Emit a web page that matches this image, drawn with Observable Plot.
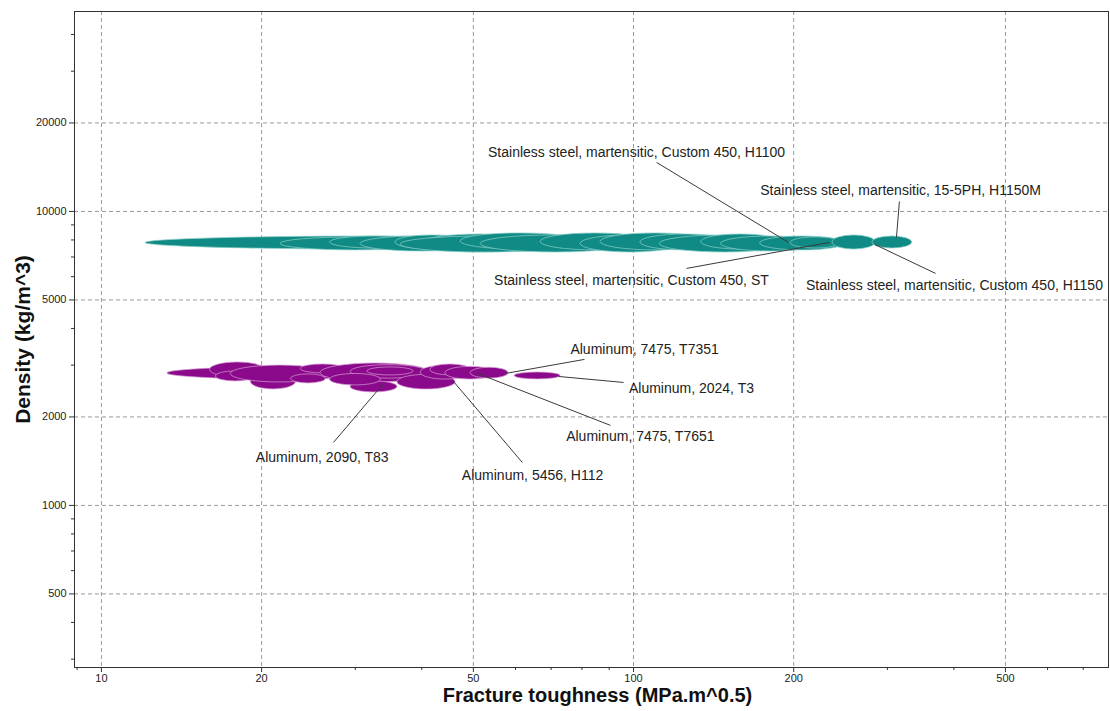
<!DOCTYPE html>
<html>
<head>
<meta charset="utf-8">
<script src="https://cdn.jsdelivr.net/npm/d3@7"></script>
<script src="https://cdn.jsdelivr.net/npm/@observablehq/plot@0.6"></script>
<style>
  body { margin: 0; background: #fff; }
</style>
</head>
<body>
<div id="chart"></div>
<script>
// ---- Stainless steel bubbles: fracture toughness range (MPa.m^0.5) and density range (kg/m^3)
const steelTough1 = [12.1, 21.7, 26.9, 30.7, 35.7, 39.8, 36.5, 47.3, 51.6, 66.9, 79.5, 86.7, 103, 112, 134, 146, 173, 197.3, 236.6, 281];
const steelTough2 = [86.7, 41.5, 39.8, 51.6, 49.4, 66.9, 76.1, 79.5, 98.7, 107.6, 122.6, 139.5, 152.2, 197.3, 189, 224.6, 250.3, 245, 285, 334];
const steelDens1  = [7420, 7370, 7480, 7310, 7420, 7250, 7250, 7420, 7250, 7370, 7250, 7370, 7370, 7250, 7420, 7310, 7370, 7480, 7420, 7480];
const steelDens2  = [8220, 8160, 8220, 8220, 8290, 8350, 8220, 8420, 8290, 8420, 8290, 8420, 8350, 8290, 8350, 8220, 8220, 8160, 8290, 8220];

// ---- Aluminum bubbles
const aluTough1 = [13.3, 16.0, 16.4, 19.1, 17.5, 22.7, 23.7, 25.8, 29.4, 31.6, 29.4, 26.9, 36.0, 39.8, 41.5, 44.3, 49.4, 59.8];
const aluTough2 = [36.5, 20.3, 19.5, 23.2, 26.9, 26.4, 28.7, 41.5, 41.0, 38.6, 36.0, 33.5, 46.3, 49.4, 49.4, 55.0, 58.2, 72.9];
const aluDens1  = [2680, 2725, 2641, 2481, 2620, 2600, 2812, 2620, 2700, 2768, 2423, 2560, 2480, 2680, 2768, 2680, 2700, 2683];
const aluDens2  = [2950, 3065, 2856, 2790, 2990, 2790, 3017, 3040, 3000, 2947, 2641, 2800, 2780, 2990, 3017, 2960, 2940, 2833];

// ---- Annotations
const labelNames = [
  "Stainless steel, martensitic, Custom 450, H1100",
  "Stainless steel, martensitic, 15-5PH, H1150M",
  "Stainless steel, martensitic, Custom 450, ST",
  "Stainless steel, martensitic, Custom 450, H1150",
  "Aluminum, 7475, T7351",
  "Aluminum, 2024, T3",
  "Aluminum, 7475, T7651",
  "Aluminum, 2090, T83",
  "Aluminum, 5456, H112"
];
const labelX   = [101.3, 317.6, 99.1, 401, 104.9, 128.5, 103, 26.0, 64.6];
const labelY   = [15870, 11790, 5825, 5601, 3394, 2500, 1717, 1457, 1265];
const leaderX1 = [110.5, 316, 125.8, 369.5, 80.9, 95.8, 90.5, 27.3, 61.8];
const leaderY1 = [14680, 10814, 6401, 6154, 3139, 2620, 1872, 1638, 1400];
const leaderX2 = [195.6, 312, 233.6, 284, 57.5, 72.3, 50.9, 33.9, 45.7];
const leaderY2 = [7845, 8157, 7845, 7723, 2812, 2746, 2812, 2600, 2662];

// ---- Axes
const xMajor = [10, 20, 50, 100, 200, 500];
const xMinor = [9, 30, 40, 60, 70, 80, 90, 300, 400, 600, 700];
const yMajor = [500, 1000, 2000, 5000, 10000, 20000];
const yMinor = [300, 400, 600, 700, 800, 900, 3000, 4000, 6000, 7000, 8000, 9000, 30000, 40000];
const xTitle = "Fracture toughness (MPa.m^0.5)";
const yTitle = "Density (kg/m^3)";

const steel = steelTough1.map((_, i) => ({t1: steelTough1[i], t2: steelTough2[i], d1: steelDens1[i], d2: steelDens2[i]}));
const alu = aluTough1.map((_, i) => ({t1: aluTough1[i], t2: aluTough2[i], d1: aluDens1[i], d2: aluDens2[i]}));
const labels = labelNames.map((name, i) => ({
  name, tx: labelX[i], ty: labelY[i],
  x1: leaderX1[i], y1: leaderY1[i], x2: leaderX2[i], y2: leaderY2[i]
}));

const gridStyle = {stroke: "#9a9a9a", strokeOpacity: 1, strokeDasharray: "4,3"};
const bubble = {x1: "t1", x2: "t2", y1: "d1", y2: "d2", rx: 2000, ry: 2000, strokeWidth: 1};

const chart = Plot.plot({
  width: 1110,
  height: 711,
  marginLeft: 74,
  marginRight: 2,
  marginTop: 11,
  marginBottom: 44,
  x: {type: "log", domain: [8.9, 781]},
  y: {type: "log", domain: [281, 47880]},
  style: {fontFamily: "'Liberation Sans', Arial, sans-serif", background: "white", color: "#222"},
  marks: [
    Plot.gridX(xMajor, gridStyle),
    Plot.gridY(yMajor, gridStyle),
    Plot.rect(steel, {...bubble, fill: "#0f8a84", stroke: "#8fd0cb", strokeOpacity: 0.7}),
    Plot.rect(alu, {...bubble, fill: "#8b0a8b", stroke: "#d49bd4", strokeOpacity: 0.7}),
    Plot.link(labels, {x1: "x1", y1: "y1", x2: "x2", y2: "y2", stroke: "#3a3a3a", strokeWidth: 1}),
    Plot.text(labels, {x: "tx", y: "ty", text: "name", fontSize: 14, fill: "#222"}),
    Plot.frame({stroke: "#333"}),
    Plot.axisX(xMajor, {tickFormat: d => String(d), tickSize: 5, tickPadding: 2, fontSize: 11, label: null, stroke: "#333"}),
    Plot.axisX(xMinor, {tickFormat: () => "", tickSize: 3, label: null, stroke: "#333"}),
    Plot.axisY(yMajor, {tickFormat: d => String(d), tickSize: 5, tickPadding: 3, fontSize: 11, label: null, stroke: "#333"}),
    Plot.axisY(yMinor, {tickFormat: () => "", tickSize: 3, label: null, stroke: "#333"}),
    Plot.text([xTitle], {text: d => d, frameAnchor: "bottom", dy: 34, dx: 6, fontSize: 20, fontWeight: "bold", fill: "#111"}),
    Plot.text([yTitle], {text: d => d, frameAnchor: "left", dx: -51, rotate: -90, textAnchor: "middle", fontSize: 21, fontWeight: "bold", fill: "#111"})
  ]
});
document.getElementById("chart").appendChild(chart);
</script>
</body>
</html>
